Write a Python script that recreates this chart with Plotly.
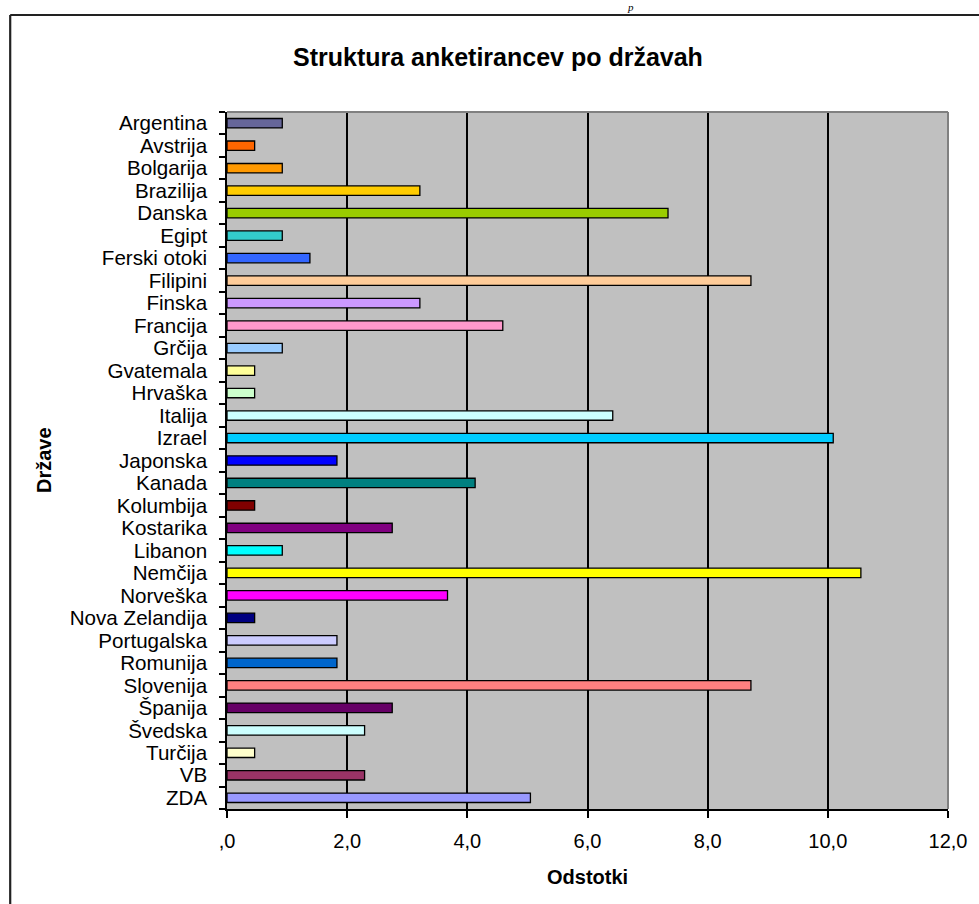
import plotly.graph_objects as go

# Share of respondents by country (percent)
countries = [
    "Argentina", "Avstrija", "Bolgarija", "Brazilija", "Danska", "Egipt",
    "Ferski otoki", "Filipini", "Finska", "Francija", "Grčija", "Gvatemala",
    "Hrvaška", "Italija", "Izrael", "Japonska", "Kanada", "Kolumbija",
    "Kostarika", "Libanon", "Nemčija", "Norveška", "Nova Zelandija",
    "Portugalska", "Romunija", "Slovenija", "Španija", "Švedska", "Turčija",
    "VB", "ZDA",
]
percent = [
    0.92, 0.46, 0.92, 3.21, 7.34, 0.92,
    1.38, 8.72, 3.21, 4.59, 0.92, 0.46,
    0.46, 6.42, 10.09, 1.83, 4.13, 0.46,
    2.75, 0.92, 10.55, 3.67, 0.46,
    1.83, 1.83, 8.72, 2.75, 2.29, 0.46,
    2.29, 5.05,
]
bar_colors = [
    "#666699", "#FF6600", "#FF9900", "#FFCC00", "#99CC00", "#33CCCC",
    "#3366FF", "#FFCC99", "#CC99FF", "#FF99CC", "#99CCFF", "#FFFF99",
    "#CCFFCC", "#CCFFFF", "#00CCFF", "#0000FF", "#008080", "#800000",
    "#800080", "#00FFFF", "#FFFF00", "#FF00FF", "#000080",
    "#CCCCFF", "#0066CC", "#FF8080", "#660066", "#CCFFFF", "#FFFFCC",
    "#993366", "#9999FF",
]
x_ticks = [0, 2, 4, 6, 8, 10, 12]
x_ticktext = [",0", "2,0", "4,0", "6,0", "8,0", "10,0", "12,0"]

title_text = "Struktura anketirancev po državah"
x_title = "Odstotki"
y_title = "Države"

W, H = 979, 904
L, R, T, B = 227, 27, 112, 95
PW, PH = W - L - R, H - T - B


def xp(px):
    return (px - L) / PW


def yp(py):
    return (H - B - py) / PH


FONT = "Liberation Sans, Arial, sans-serif"

fig = go.Figure(
    go.Bar(
        x=percent,
        y=countries,
        orientation="h",
        width=0.42,
        marker=dict(color=bar_colors, line=dict(color="black", width=1.3)),
        hoverinfo="x+y",
    )
)

fig.update_layout(
    width=W,
    height=H,
    margin=dict(l=L, r=R, t=T, b=B, pad=0),
    paper_bgcolor="white",
    plot_bgcolor="#C0C0C0",
    showlegend=False,
    font=dict(family=FONT, color="black"),
    xaxis=dict(
        range=[0, 12],
        tickvals=x_ticks,
        ticktext=x_ticktext,
        tickfont=dict(size=20, color="black"),
        ticks="outside",
        ticklen=7,
        tickwidth=1.5,
        tickcolor="black",
        ticklabelstandoff=6,
        showgrid=True,
        gridcolor="black",
        gridwidth=1.5,
        showline=True,
        linecolor="black",
        linewidth=1.5,
        zeroline=False,
        fixedrange=True,
    ),
    yaxis=dict(
        categoryorder="array",
        categoryarray=countries,
        tickmode="array",
        tickvals=countries,
        ticktext=countries,
        autorange="reversed",
        tickfont=dict(size=20.6, color="black"),
        ticks="outside",
        tickson="boundaries",
        ticklen=6,
        tickwidth=1.5,
        tickcolor="black",
        ticklabelstandoff=14,
        showgrid=False,
        showline=True,
        linecolor="black",
        linewidth=1.5,
        fixedrange=True,
    ),
    shapes=[
        # gray top and right edges of the plot area
        dict(type="line", xref="paper", yref="paper", x0=0, x1=1, y0=1, y1=1,
             line=dict(color="#808080", width=2), layer="above"),
        dict(type="line", xref="paper", yref="paper", x0=1, x1=1, y0=0, y1=1,
             line=dict(color="#808080", width=2), layer="above"),
        # outer chart frame (left and top sides)
        dict(type="line", xref="paper", yref="paper", x0=xp(9), x1=xp(9),
             y0=yp(15), y1=yp(H + 10), line=dict(color="#222222", width=2.2)),
        dict(type="line", xref="paper", yref="paper", x0=xp(9), x1=xp(W + 10),
             y0=yp(15), y1=yp(15), line=dict(color="#222222", width=2.2)),
    ],
    annotations=[
        dict(text="<b>" + title_text + "</b>", xref="paper", yref="paper",
             x=xp(500), y=yp(57), xanchor="center", yanchor="middle",
             showarrow=False, font=dict(size=25, family=FONT, color="black")),
        dict(text="<b>" + x_title + "</b>", xref="paper", yref="paper",
             x=xp(589), y=yp(877), xanchor="center", yanchor="middle",
             showarrow=False, font=dict(size=20, family=FONT, color="black")),
        dict(text="<b>" + y_title + "</b>", xref="paper", yref="paper",
             x=xp(43), y=yp(460), xanchor="center", yanchor="middle",
             textangle=-90, showarrow=False,
             font=dict(size=20, family=FONT, color="black")),
        dict(text="<i>p</i>", xref="paper", yref="paper",
             x=xp(633), y=yp(0), xanchor="center", yanchor="top",
             showarrow=False, borderpad=0,
             font=dict(size=11, family="Liberation Serif, serif", color="black")),
    ],
)

fig.write_html("out.html")
